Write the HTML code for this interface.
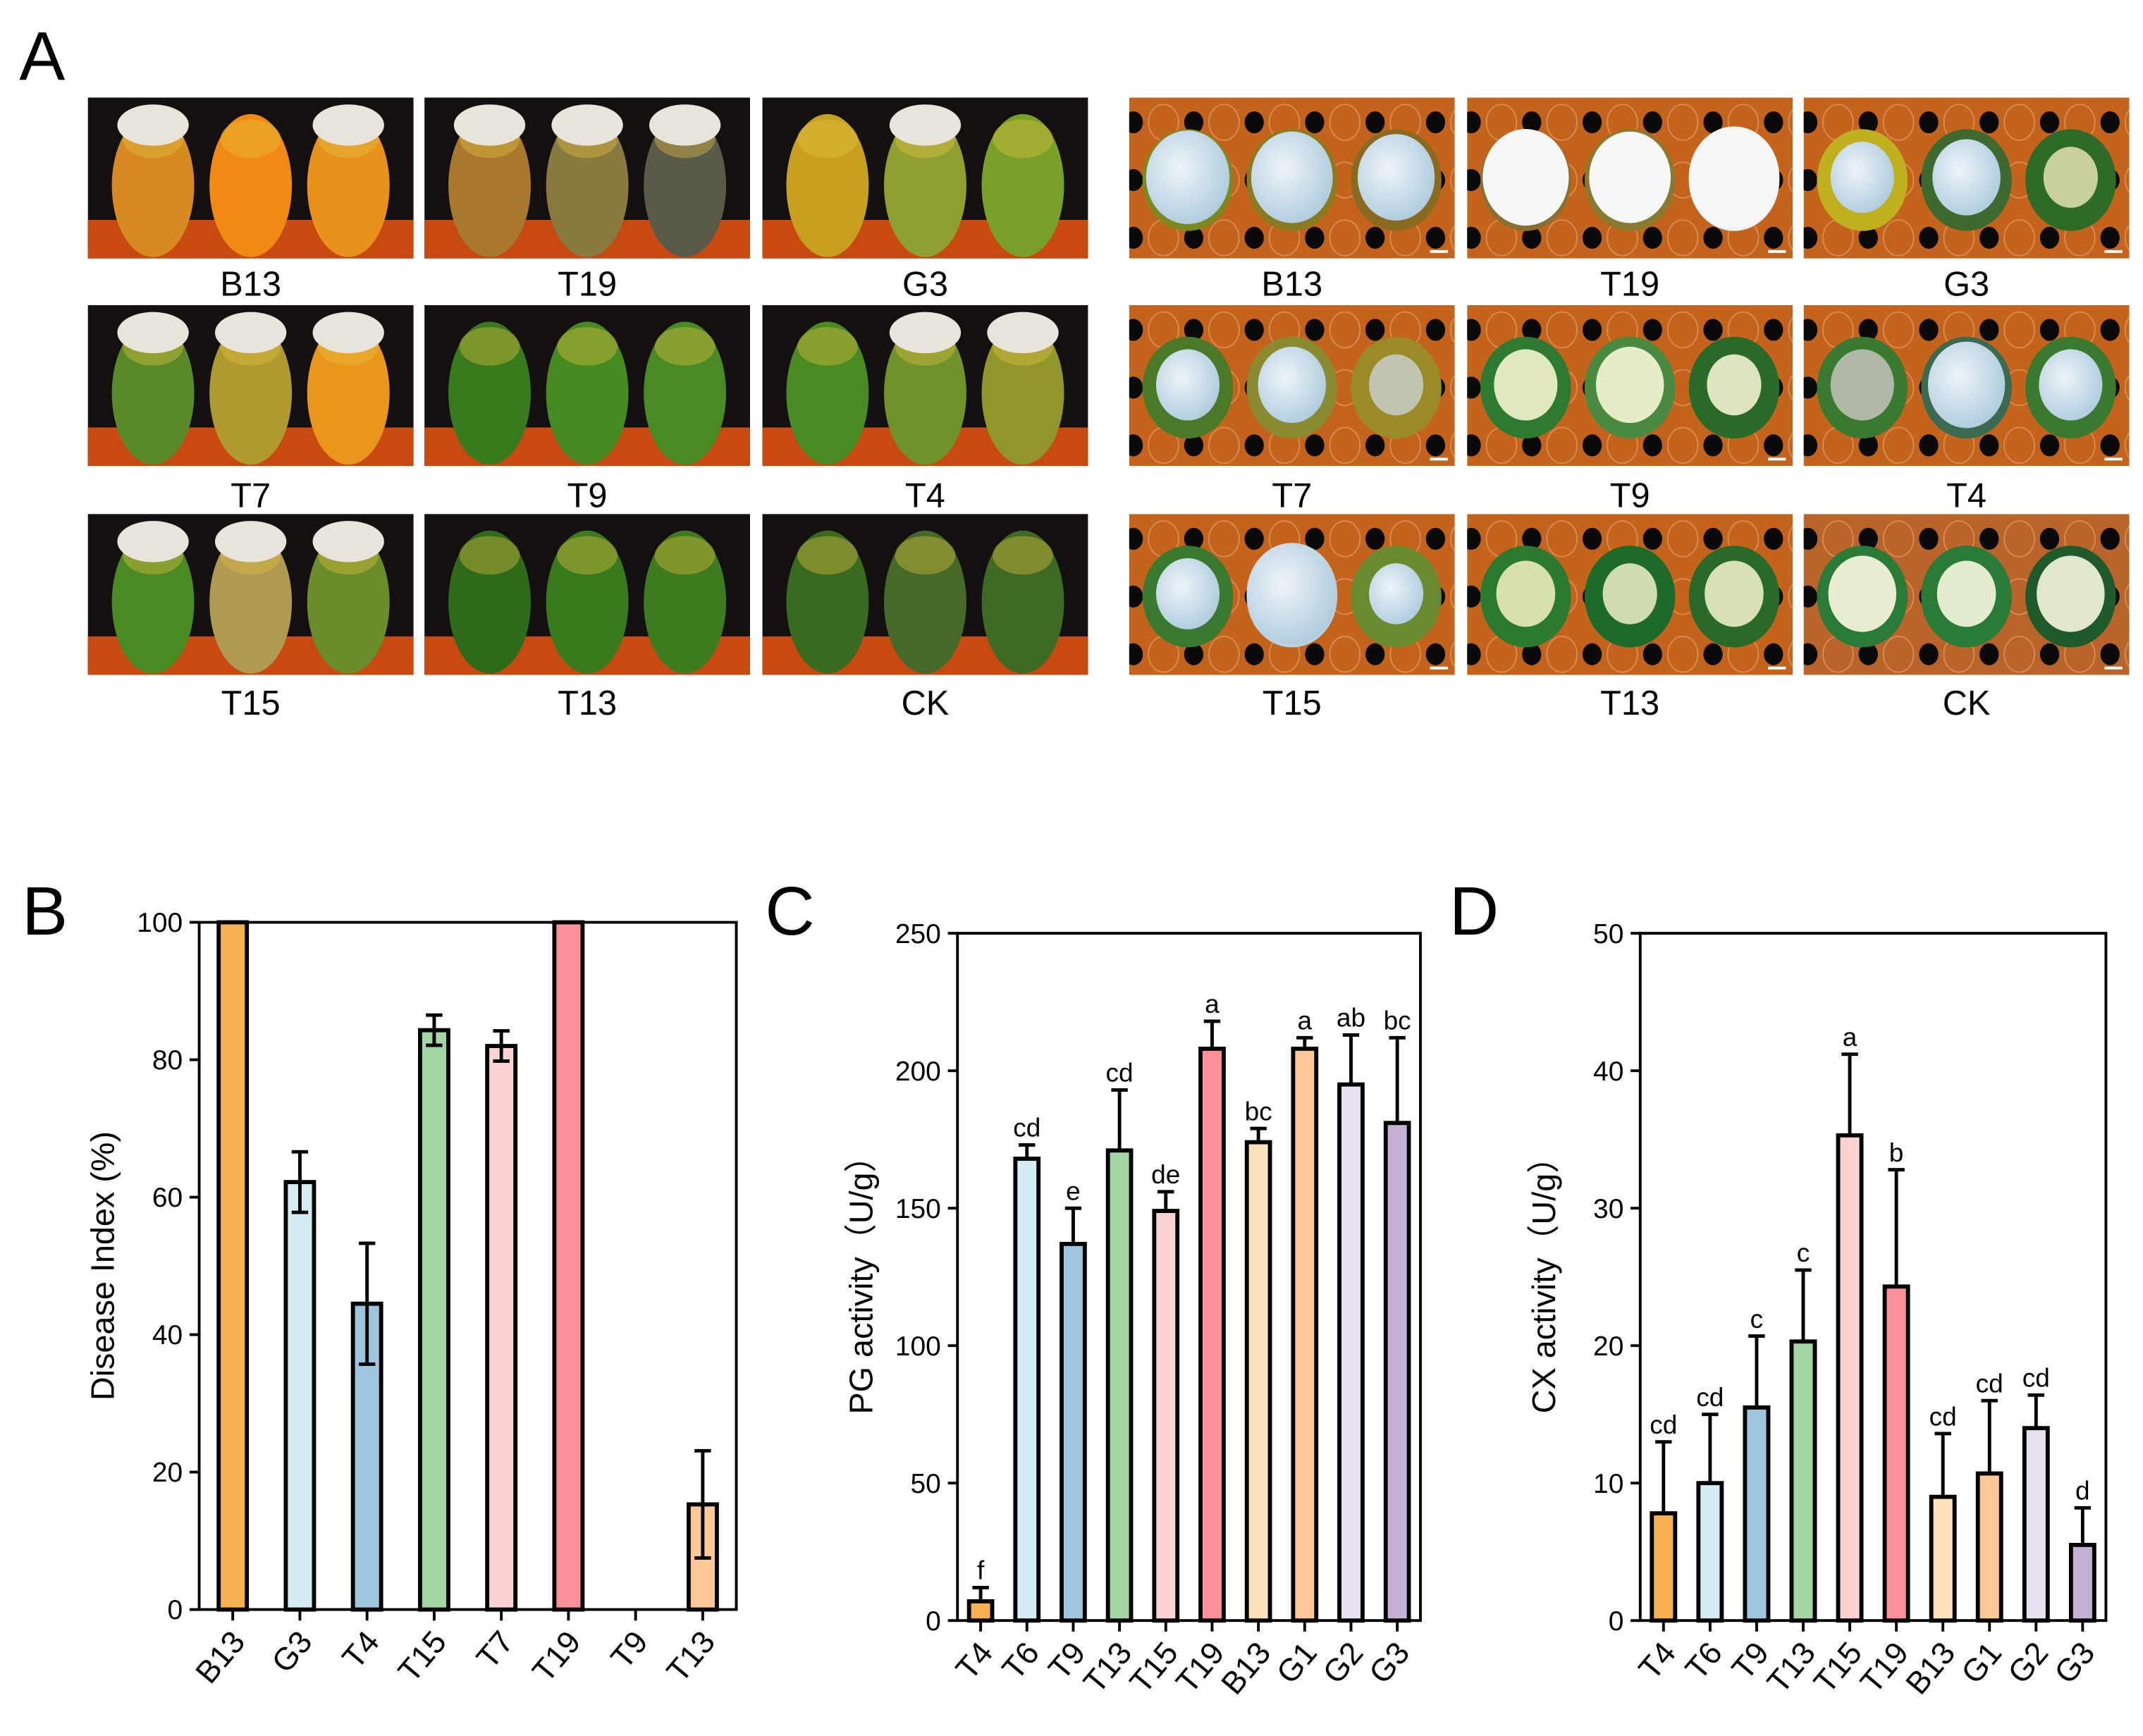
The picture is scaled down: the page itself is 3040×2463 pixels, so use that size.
<!DOCTYPE html>
<html><head><meta charset="utf-8"><style>
html,body{margin:0;padding:0;background:#fff}
svg{display:block}
text{font-family:"Liberation Sans",Arial,sans-serif}
</style></head><body>
<svg id="fig" width="3040" height="2463" viewBox="0 0 1560 1263" preserveAspectRatio="none" xmlns="http://www.w3.org/2000/svg">
<defs>
<radialGradient id="moldG" cx="0.4" cy="0.4" r="0.7"><stop offset="0" stop-color="#eef4f8"/><stop offset="1" stop-color="#a9c8dc"/></radialGradient>
</defs>
<text x="14" y="58" font-size="50">A</text>
<text x="16" y="680" font-size="50">B</text>
<text x="557" y="680" font-size="50">C</text>
<text x="1055" y="680" font-size="50">D</text>
<g id="photos"></g>
<g id="chartB"></g>
<g id="chartC"></g>
<g id="chartD"></g>
</svg>
<script>
// ---- chart data ----
const catsB = ["B13","G3","T4","T15","T7","T19","T9","T13"];
const valsB = [100,62.2,44.5,84.3,82.0,100,0,15.3];
const errB  = [0,4.4,8.8,2.2,2.2,0,0,7.8];
const colB  = ["#f5b04f","#d4ecf4","#9fc4df","#a2d6a4","#fdd3d2","#fd919a","#ffffff","#fdc796"];
const ticksB = [0,20,40,60,80,100];

const catsC = ["T4","T6","T9","T13","T15","T19","B13","G1","G2","G3"];
const valsC = [7,168,137,171,149,208,174,208,195,181];
const errC  = [5,5,13,22,7,10,5,4,18,31];
const lettersC = ["f","cd","e","cd","de","a","bc","a","ab","bc"];
const ticksC = [0,50,100,150,200,250];

const catsD = ["T4","T6","T9","T13","T15","T19","B13","G1","G2","G3"];
const valsD = [7.8,10,15.5,20.3,35.3,24.3,9,10.7,14,5.5];
const errD  = [5.2,5,5.2,5.2,5.9,8.5,4.6,5.3,2.4,2.7];
const lettersD = ["cd","cd","c","c","a","b","cd","cd","cd","d"];
const ticksD = [0,10,20,30,40,50];
const colCD = ["#f5b04f","#d4ecf4","#9fc4df","#a2d6a4","#fdd3d2","#fd919a","#fde3bc","#fdc796","#e6e0f0","#c3b0d4"];

const NS="http://www.w3.org/2000/svg";
function mk(tag,attrs,parent,txt){const e=document.createElementNS(NS,tag);for(const k in attrs)e.setAttribute(k,attrs[k]);if(txt!==undefined)e.textContent=txt;parent.appendChild(e);return e;}

function chart(g,cats,vals,errs,cols,ticks,letters,box,ytitle,capTop,bwf){
  const {x0,x1,y0,y1}=box; const max=ticks[ticks.length-1];
  const ys=v=>y0-(v/max)*(y0-y1);
  const step=(x1-x0)/cats.length; const xs=i=>x0+step*(i+0.5);
  const bw=step*bwf;
  cats.forEach((c,i)=>{
    if(vals[i]<=0) return;
    const cx=xs(i), yt=ys(vals[i]);
    const r=mk('rect',{x:cx-bw/2,y:yt,width:bw,height:y0-yt,fill:cols[i],stroke:'#000','stroke-width':3},g);
    
    
    if(errs[i]>0){
      const eu=ys(vals[i]+errs[i]), el=ys(vals[i]-errs[i]);
      const low = capTop ? yt : el;
      const e=mk('path',{d:`M${cx},${low}V${eu}M${cx-6},${eu}H${cx+6}`+(capTop?'':`M${cx-6},${el}H${cx+6}`),stroke:'#000','stroke-width':2.5,fill:'none'},g);
      
      
    }
    if(letters){
      const eu=ys(vals[i]+errs[i]);
      const t=mk('text',{x:cx,y:eu-6,'font-size':19,'text-anchor':'middle'},g,letters[i]);
      
      
    }
  });
  const f=mk('path',{d:`M${x0},${y1}H${x1}V${y0}H${x0}Z`,stroke:'#000','stroke-width':2,fill:'none'},g);
  
  
  ticks.forEach(v=>{
    const y=ys(v);
    const tl=mk('line',{x1:x0-7,x2:x0,y1:y,y2:y,stroke:'#000','stroke-width':2},g);
    
    
    const t=mk('text',{x:x0-12,y:y+7,'font-size':20,'text-anchor':'end'},g,v);
    
    
  });
  cats.forEach((c,i)=>{
    const cx=xs(i);
    const tl=mk('line',{x1:cx,x2:cx,y1:y0,y2:y0+8,stroke:'#000','stroke-width':2},g);
    
    
    const t=mk('text',{x:cx+10,y:y0+24,'font-size':23,'text-anchor':'end',transform:`rotate(-50 ${cx+10} ${y0+24})`},g,c);
    
    
  });
  const yt=mk('text',{x:0,y:0,'font-size':24,'text-anchor':'middle',transform:`translate(${x0-62},${(y0+y1)/2}) rotate(-90)`},g,ytitle);
  
  
}
chart(document.getElementById('chartB'),catsB,valsB,errB,colB,ticksB,null,{x0:145,x1:536,y0:1171,y1:671},'Disease Index (%)',false,0.42);
chart(document.getElementById('chartC'),catsC,valsC,errC,colCD,ticksC,lettersC,{x0:697,x1:1034,y0:1179,y1:679},'PG activity（U/g）',true,0.5);
chart(document.getElementById('chartD'),catsD,valsD,errD,colCD,ticksD,lettersD,{x0:1194,x1:1533,y0:1179,y1:679},'CX activity（U/g）',true,0.5);

// ---- photo panels (illustrative) ----
const P=document.getElementById('photos');
const defs=document.querySelector('defs');
const names=[["B13","T19","G3"],["T7","T9","T4"],["T15","T13","CK"]];
const leftX=[64,309,555], rightX=[822,1068,1313], rowY=[71,222,374], W=237, H=117;
const labelY=[215,369,520];
const leftLook={B13:[["#d88a22",1],["#f08a12",0],["#e8921c",1]],T19:[["#a8782e",1],["#8a7a40",1],["#5a5a48",1]],G3:[["#c8a020",0],["#90a030",1],["#78a028",0]],
T7:[["#5a8a28",1],["#b09a30",1],["#e8961c",1]],T9:[["#3a7a1e",0],["#488a22",0],["#4a8a24",0]],T4:[["#4a8a22",0],["#70922a",1],["#90962a",1]],
T15:[["#4a8a22",1],["#b09a50",1],["#6a8c2a",1]],T13:[["#2e6a1a",0],["#3a7a1e",0],["#3e7a20",0]],CK:[["#3a6a20",0],["#456a28",0],["#3e6a24",0]]};
const rightLook={B13:[["#7a8a20","url(#moldG)",0.92],["#8a7a20","url(#moldG)",0.9],["#8a6a20","url(#moldG)",0.85]],
T19:[["#8a7030","#f4f6f8",0.95],["#8a7a30","#f4f6f8",0.9],["#f0f2f4","#f4f6f8",1]],G3:[["#c0b020","url(#moldG)",0.7],["#3e6a30","url(#moldG)",0.75],["#2e6a28","#c8d0a0",0.6]],
T7:[["#4a7a28","url(#moldG)",0.7],["#8a8a30","url(#moldG)",0.75],["#9a8a28","#c0c4b0",0.6]],T9:[["#2e7a30","#e0e8c0",0.7],["#4a8a40","#e4ecc8",0.75],["#2a6a28","#dce4c0",0.6]],
T4:[["#3a7a30","#b0b8a8",0.7],["#3a6a50","url(#moldG)",0.85],["#3a7a30","url(#moldG)",0.7]],T15:[["#3a7a30","url(#moldG)",0.7],["#b8d4e4","url(#moldG)",1],["#6a8a30","url(#moldG)",0.6]],
T13:[["#2a7a30","#d8e0b0",0.65],["#1e6a28","#d0dcb0",0.6],["#2a6a28","#d8e0b8",0.65]],CK:[["#2a7a38","#e8ecd0",0.75],["#2a7a38","#e4ecd0",0.65],["#1e5a2a","#e0e8c8",0.75]]};
let cid=0;
rowY.forEach((y,r)=>{
  leftX.forEach((x,c)=>{
    const n=names[r][c]; const g=mk('g',{},P);
    
    
    mk('rect',{x:x,y:y,width:W,height:H,fill:'#141010'},g);
    mk('rect',{x:x,y:y+H-28,width:W,height:28,fill:'#c84a10'},g);
    leftLook[n].forEach((lk,k)=>{
      const cx=x+W*(0.2+0.3*k);
      mk('ellipse',{cx:cx,cy:y+64,rx:30,ry:52,fill:lk[0]},g);
      mk('ellipse',{cx:cx,cy:y+30,rx:22,ry:14,fill:'#e4c040',opacity:0.4},g);
      if(lk[1]) mk('ellipse',{cx:cx,cy:y+20,rx:26,ry:15,fill:'#e8e4dc'},g);
    });
    const t=mk('text',{x:x+W/2,y:labelY[r],'font-size':25,'text-anchor':'middle'},P,n);
    
    
  });
  rightX.forEach((x,c)=>{
    const n=names[r][c];
    const cp=mk('clipPath',{id:'cp'+cid},defs); mk('rect',{x:x,y:y,width:W,height:H},cp);
    const g=mk('g',{'clip-path':`url(#cp${cid})`},P); cid++;
    
    
    mk('rect',{x:x,y:y,width:W,height:H,fill:n==='CK'?'#b8642a':'#c4641c'},g);
    for(let i=0;i<6;i++){for(let j=0;j<3;j++){
      const hx=x+3+i*44, hy=y+18+j*42;
      mk('ellipse',{cx:hx,cy:hy,rx:7,ry:8,fill:'#0a0a0a'},g);
      mk('ellipse',{cx:hx+22,cy:hy,rx:11,ry:13,fill:'none',stroke:'#d88a50','stroke-width':1},g);
    }}
    rightLook[n].forEach((lk,k)=>{
      const cx=x+W*(0.18+0.32*k);
      mk('ellipse',{cx:cx,cy:y+60,rx:33,ry:37,fill:lk[0]},g);
      mk('ellipse',{cx:cx,cy:y+58,rx:33*lk[2],ry:37*lk[2],fill:lk[1]},g);
    });
    mk('rect',{x:x+W-18,y:y+H-6,width:13,height:2,fill:'#fff'},g);
    const t=mk('text',{x:x+W/2,y:labelY[r],'font-size':25,'text-anchor':'middle'},P,n);
    
    
  });
});
</script>
</body></html>
